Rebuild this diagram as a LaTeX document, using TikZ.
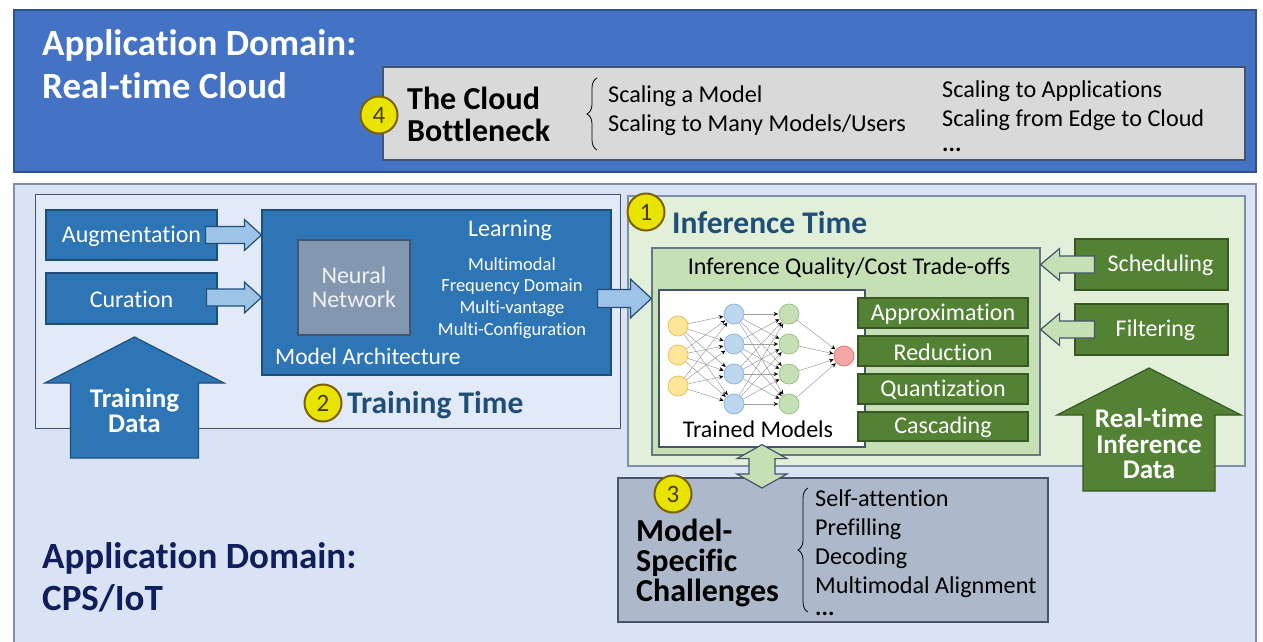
\documentclass[tikz,border=0pt]{standalone}
\usepackage{fontspec}
\setmainfont{Carlito}[Ligatures={NoCommon,TeX}, RawFeature={-liga;-clig;-calt;-dlig}]
\usetikzlibrary{calc,fit,decorations.pathreplacing,arrows.meta}

\definecolor{cloudblue}{HTML}{4472C4}
\definecolor{cloudedge}{HTML}{2F528F}
\definecolor{panelgray}{HTML}{D9D9D9}
\definecolor{slate}{HTML}{44546A}
\definecolor{iotfill}{HTML}{DAE3F3}
\definecolor{iotedge}{HTML}{7F8FA9}
\definecolor{trainfill}{HTML}{E1EAF6}
\definecolor{midblue}{HTML}{2E75B6}
\definecolor{navyedge}{HTML}{1F4E79}
\definecolor{nnfill}{HTML}{8497B0}
\definecolor{paleblue}{HTML}{9DC3E6}
\definecolor{infill}{HTML}{E2F0D9}
\definecolor{palegreen}{HTML}{C5E0B4}
\definecolor{leaf}{HTML}{548235}
\definecolor{leafedge}{HTML}{385723}
\definecolor{challenge}{HTML}{ADB9CA}
\definecolor{badgefill}{HTML}{E8E400}
\definecolor{badgeedge}{HTML}{7F6000}
\definecolor{titleblue}{HTML}{1F4E79}
\definecolor{navytext}{HTML}{0E1F5B}
\definecolor{nyellow}{HTML}{FFE699}
\definecolor{nyellowedge}{HTML}{E6C35C}
\definecolor{nblue}{HTML}{BDD7EE}
\definecolor{nblueedge}{HTML}{8FB8DE}
\definecolor{ngreen}{HTML}{C5E0B4}
\definecolor{ngreenedge}{HTML}{9CC483}
\definecolor{nred}{HTML}{F4A7A3}
\definecolor{nrededge}{HTML}{E07B76}

\newcommand\fs[1]{\fontsize{#1}{#1}\selectfont}

% horizontal block arrow: style, tail, tip, shaft half-width, head half-width, head length (signed)
\newcommand\harrowshape[6]{%
  \draw[#1] let \p1=(#2), \p2=(#3) in
    (\x1,{\y2+#4}) -- ({\x2-(#6)},{\y2+#4}) -- ({\x2-(#6)},{\y2+#5}) -- (\x2,\y2)
    -- ({\x2-(#6)},{\y2-#5}) -- ({\x2-(#6)},{\y2-#4}) -- (\x1,{\y2-#4}) -- cycle;}
% upward block arrow: style, tail, tip, shaft half-width, head half-width, head length
\newcommand\varrowshape[6]{%
  \draw[#1] let \p1=(#2), \p2=(#3) in
    ({\x2-#4},\y1) -- ({\x2-#4},{\y2-#6}) -- ({\x2-#5},{\y2-#6}) -- (\x2,\y2)
    -- ({\x2+#5},{\y2-#6}) -- ({\x2+#4},{\y2-#6}) -- ({\x2+#4},\y1) -- cycle;}
% vertical two-headed block arrow: style, lower tip, upper tip, shaft half, head half, head length
\newcommand\dvarrowshape[6]{%
  \draw[#1] let \p1=(#2), \p2=(#3) in
    ({\x2-#4},{\y2-#6}) -- ({\x2-#5},{\y2-#6}) -- (\x2,\y2) -- ({\x2+#5},{\y2-#6})
    -- ({\x2+#4},{\y2-#6}) -- ({\x2+#4},{\y1+#6}) -- ({\x2+#5},{\y1+#6}) -- (\x2,\y1)
    -- ({\x2-#5},{\y1+#6}) -- ({\x2-#4},{\y1+#6}) -- cycle;}

\tikzset{
  panel/.style={inner sep=0pt, line width=1.2pt},
  bluebox/.style={panel, fill=midblue, draw=navyedge},
  greenbox/.style={panel, fill=leaf, draw=leafedge},
  boxtext/.style={inner sep=0pt, text=white, font=\fs{24}},
  badge/.style={circle, minimum size=37pt, inner sep=0pt, fill=badgefill,
    draw=badgeedge, line width=2pt, font=\fs{25}, text=badgeedge!60!black},
  label/.style={inner sep=0pt, anchor=base west},
  bigtitle/.style={label, font=\bfseries\fs{37}},
  sectiontitle/.style={label, font=\bfseries\fs{31.5}, text=titleblue},
  plain/.style={label, font=\fs{24.2}},
  bluearrow/.style={fill=paleblue, draw=navyedge, line width=1.2pt, line join=miter},
  greenarrow/.style={fill=palegreen, draw=slate, line width=1.2pt, line join=miter},
  bigblue/.style={fill=midblue, draw=navyedge, line width=1.2pt, line join=miter},
  biggreen/.style={fill=leaf, draw=leafedge, line width=1.2pt, line join=miter},
  neuron/.style={circle, minimum size=20pt, inner sep=0pt, line width=0.8pt},
  synapse/.style={draw=gray!75, line width=0.5pt, shorten >=0.5pt,
    -{Stealth[length=4.5pt,width=4pt,black]}},
  curly/.style={decorate, decoration={brace, amplitude=10pt}, line width=0.8pt},
}

\begin{document}
\begin{tikzpicture}[x=1pt, y=-1pt]
\path[use as bounding box] (0,0) rectangle (1263,642);
\fill[white] (0,0) rectangle (1263,642);
\clip (0,0) rectangle (1263,642);

% ---------- cloud domain ----------
\node[panel, fill=cloudblue, draw=cloudedge, line width=1.5pt, fit={(14,10) (1256,172)}] (cloud) {};
\node[bigtitle, text=white] (cloudA) at (42,56) {Application Domain:};
\node[bigtitle, text=white] (cloudB) at (42,98) {Real-time Cloud};

\node[panel, fill=panelgray, draw=slate, fit={(383,67) (1245,160)}] (bottleneck) {};
\node[label, font=\bfseries\fs{32}] (bnA) at (407,109) {The Cloud};
\node[label, font=\bfseries\fs{32}] (bnB) at (407,141) {Bottleneck};
\node[badge] (b4) at (379,115) {4};
\draw[curly] (597,150) -- (597,78);
\node[plain] (sc1) at (608,102) {Scaling a Model};
\node[plain] (sc2) at (608,131) {Scaling to Many Models/Users};
\node[plain] (sc3) at (942,97) {Scaling to Applications};
\node[plain] (sc4) at (942,126) {Scaling from Edge to Cloud};
\node[plain, font=\bfseries\fs{24}] (sc5) at (942,151) {...};

% ---------- CPS / IoT domain ----------
\node[panel, fill=iotfill, draw=iotedge, line width=1.5pt, fit={(14,184) (1256,670)}] (iot) {};
\node[bigtitle, text=navytext] (iotA) at (42,568) {Application Domain:};
\node[bigtitle, text=navytext] (iotB) at (42,610) {CPS/IoT};

% ---------- training time ----------
\node[panel, fill=trainfill, draw=slate, line width=1pt, fit={(35,194) (620,428)}] (training) {};
\node[bluebox, fit={(46,210) (217,260)}] (aug) {};
\node[boxtext] (augtxt) at ($(aug.center)+(0,1)$) {Augmentation};
\node[bluebox, fit={(46,273) (217,324)}] (cur) {};
\node[boxtext] (curtxt) at ($(cur.center)+(0,1)$) {Curation};
\node[bluebox, fit={(262,210) (611,375)}] (arch) {};
\node[panel, fill=nnfill, draw=slate, fit={(298,240) (410,335)}] (nn) {};
\node[boxtext, align=center, text=white!88!nnfill, font=\fontsize{24}{24}\selectfont] (nntxt) at (nn.center) {Neural\\Network};
\node[boxtext] (learn) at (510,230) {Learning};
\node[boxtext, font=\fontsize{18.5}{21.7}\selectfont, align=center] (modes) at (512,298)
  {Multimodal\\Frequency Domain\\Multi-vantage\\Multi-Configuration};
\node[label, text=white, font=\fs{23.5}] (archlbl) at (275,364) {Model Architecture};

\harrowshape{bluearrow}{$(aug.east)+(-12,0)$}{arch.west |- aug.east}{8.5pt}{15.5pt}{17pt}
\harrowshape{bluearrow}{$(cur.east)+(-11,-1)$}{$(arch.west |- cur.east)+(0,-1)$}{8.5pt}{15.5pt}{17pt}

\coordinate (tdTail) at (134.5,458);
\coordinate (tdTip) at (134.5,337);
\varrowshape{bigblue}{tdTail}{tdTip}{64pt}{89.5pt}{46pt}
\node[text=white, font=\bfseries\fontsize{27}{25}\selectfont, align=center, inner sep=0] (tdlbl) at (134.5,411) {Training\\Data};

\node[badge] (b2) at (323,403) {2};
\node[sectiontitle] (trainlbl) at (347,413) {Training Time};

% ---------- inference time ----------
\node[panel, fill=infill, draw=iotedge, fit={(628,196) (1245,466)}] (inference) {};
\node[badge] (b1) at (646,212) {1};
\node[sectiontitle] (inflbl) at (672,233) {Inference Time};

\node[panel, fill=palegreen, draw=slate!80, fit={(652,248) (1040,455)}] (quality) {};
\node[font=\fs{24}, inner sep=0] (qlbl) at (849,268) {Inference Quality/Cost Trade-offs};
\node[panel, fill=white, draw=slate, fit={(659,290) (865,447)}] (trained) {};
\node[font=\fs{24}, inner sep=0] (tmlbl) at (758,429) {Trained Models};

\node[greenbox, fit={(858,298) (1028,328)}] (approx) {};
\node[boxtext] (approxtxt) at ($(approx.center)+(0,1)$) {Approximation};
\node[greenbox, fit={(858,336) (1028,366)}] (reduce) {};
\node[boxtext] (reducetxt) at ($(reduce.center)+(0,1)$) {Reduction};
\node[greenbox, fit={(858,374) (1028,404)}] (quant) {};
\node[boxtext] (quanttxt) at ($(quant.center)+(0,1)$) {Quantization};
\node[greenbox, fit={(858,412) (1028,441)}] (cascade) {};
\node[boxtext] (cascadetxt) at ($(cascade.center)+(0,1)$) {Cascading};

% small network inside the trained-model panel
\foreach \i/\y in {1/326,2/355,3/386}
  \node[neuron, fill=nyellow, draw=nyellowedge] (in\i) at (678,\y) {};
\foreach \i/\y in {1/314,2/344,3/374,4/404}
  \node[neuron, fill=nblue, draw=nblueedge] (ha\i) at (734,\y) {};
\foreach \i/\y in {1/314,2/344,3/374,4/404}
  \node[neuron, fill=ngreen, draw=ngreenedge] (hb\i) at (789,\y) {};
\node[neuron, fill=nred, draw=nrededge] (out) at (844,356) {};
\foreach \a in {1,2,3} \foreach \b in {1,2,3,4} \draw[synapse] (in\a) -- (ha\b);
\foreach \a in {1,2,3,4} \foreach \b in {1,2,3,4} \draw[synapse] (ha\a) -- (hb\b);
\foreach \a in {1,2,3,4} \draw[synapse] (hb\a) -- (out);

\node[greenbox, fit={(1075,239) (1228,290)}] (sched) {};
\node[greenbox, fit={(1075,304) (1228,355)}] (filter) {};
\harrowshape{greenarrow}{$(sched.west)+(20,0)$}{quality.east |- sched.west}{8.5pt}{16pt}{-19pt}
\harrowshape{greenarrow}{$(filter.west)+(20,0)$}{quality.east |- filter.west}{8.5pt}{16pt}{-19pt}
\node[boxtext] (schedtxt) at ($(sched.center)+(9,1)$) {Scheduling};
\node[boxtext] (filtertxt) at ($(filter.center)+(4,1)$) {Filtering};

\coordinate (rtTail) at (1149,491);
\coordinate (rtTip) at (1149,368);
\varrowshape{biggreen}{rtTail}{rtTip}{66pt}{92pt}{47pt}
\node[text=white, font=\bfseries\fontsize{27}{25.5}\selectfont, align=center, inner sep=0] (rtlbl) at (1149,444) {Real-time\\Inference\\Data};

% training feeds inference
\harrowshape{bluearrow}{$(arch.east)+(-14,6)$}{$(quality.west |- arch.east)+(0,6)$}{9pt}{19.5pt}{21pt}

% ---------- model-specific challenges ----------
\node[panel, fill=challenge, draw=slate, fit={(618,478) (1048,622)}] (challenges) {};
\coordinate (dvLow) at (762,488);
\coordinate (dvHigh) at (trained.south -| dvLow);
\dvarrowshape{greenarrow}{dvLow}{$(dvHigh)+(0,-3)$}{13pt}{25pt}{14pt}
\node[badge] (b3) at (673,494) {3};
\node[label, font=\bfseries\fs{32}] (msA) at (636,541) {Model-};
\node[label, font=\bfseries\fs{32}] (msB) at (636,571) {Specific};
\node[label, font=\bfseries\fs{32}] (msC) at (636,601) {Challenges};
\draw[curly] (808,612) -- (808,488);
\node[plain] (ch1) at (815,506) {Self-attention};
\node[plain] (ch2) at (815,535) {Prefilling};
\node[plain] (ch3) at (815,564) {Decoding};
\node[plain] (ch4) at (815,593) {Multimodal Alignment};
\node[plain, font=\bfseries\fs{24}] (ch5) at (815,615) {...};
\end{tikzpicture}
\end{document}
